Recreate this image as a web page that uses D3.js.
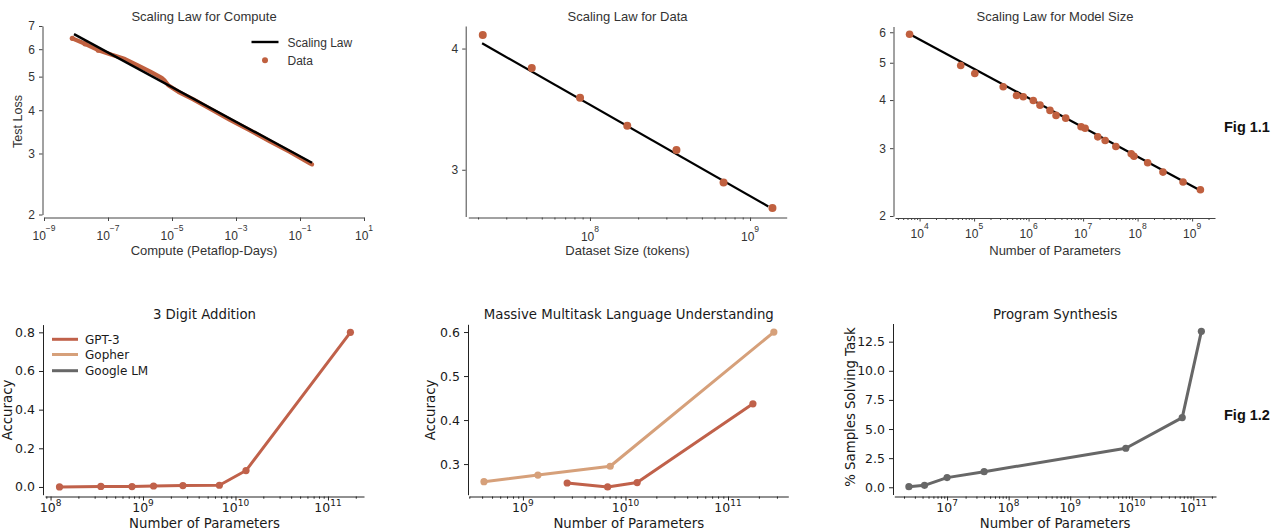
<!DOCTYPE html>
<html><head><meta charset="utf-8">
<script src="https://cdn.jsdelivr.net/npm/d3@7"></script>
<style>body{margin:0;background:#fff;} svg{display:block;}</style>
</head><body><svg id="c" width="1282" height="531"></svg>
<script>
// ---------- DATA ----------
// Fig 1.1 — Scaling Law for Compute
const computePF   = [7.66e-9, 1.91e-8, 4.98e-8, 1.31e-7, 3.40e-7, 8.85e-7, 2.32e-6, 4.76e-6, 6.04e-6, 7.66e-6, 1.57e-5, 4.63e-5, 1.54e-4, 6.49e-4, 2.74e-3, 1.15e-2, 4.86e-2, 0.205, 0.237];
const computeLoss = [6.45, 6.22, 5.96, 5.78, 5.62, 5.38, 5.14, 4.96, 4.86, 4.72, 4.52, 4.30, 4.04, 3.75, 3.50, 3.25, 3.03, 2.81, 2.79];
const computeLawX = [8.66e-9, 0.237];
const computeLawY = [6.63, 2.82];
// Scaling Law for Data
const dataTokens  = [2.14e7, 4.33e7, 8.67e7, 1.71e8, 3.47e8, 6.83e8, 1.38e9];
const dataLoss    = [4.13, 3.82, 3.56, 3.33, 3.145, 2.91, 2.74];
const dataLawX    = [2.12e7, 1.30e9];
const dataLawY    = [4.05, 2.75];
// Scaling Law for Model Size
const modelParams = [6.55e3, 5.69e4, 1.03e5, 3.42e5, 6.01e5, 7.98e5, 1.22e6, 1.62e6, 2.47e6, 3.19e6, 4.80e6, 9.19e6, 1.09e7, 1.86e7, 2.54e7, 3.99e7, 7.64e7, 8.57e7, 1.53e8, 2.92e8, 6.82e8, 1.42e9];
const modelLoss   = [5.93, 4.92, 4.69, 4.33, 4.11, 4.08, 3.99, 3.88, 3.76, 3.65, 3.59, 3.41, 3.38, 3.21, 3.14, 3.03, 2.90, 2.86, 2.75, 2.60, 2.45, 2.34];
const modelLawX   = [7.03e3, 1.42e9];
const modelLawY   = [5.90, 2.33];
// Fig 1.2 — emergent abilities
const seriesNames   = ["GPT-3", "Gopher", "Google LM"];
const gpt3Params    = [1.25e8, 3.5e8, 7.6e8, 1.3e9, 2.7e9, 6.7e9, 1.3e10, 1.75e11];
const additionAcc   = [0.0, 0.003, 0.002, 0.005, 0.007, 0.009, 0.085, 0.80];
const mmluGpt3X     = [2.7e9, 6.7e9, 1.3e10, 1.75e11];
const mmluGpt3Acc   = [0.257, 0.248, 0.258, 0.437];
const gopherParams  = [4.17e8, 1.4e9, 7.1e9, 2.8e11];
const mmluGopherAcc = [0.260, 0.275, 0.295, 0.600];
const googleParams  = [2.4e6, 4.3e6, 1.0e7, 4.0e7, 8.0e9, 6.6e10, 1.35e11];
const synthPct      = [0.05, 0.17, 0.83, 1.34, 3.35, 5.98, 13.39];
// tick labels
const computeTicks  = [1e-9, 1e-7, 1e-5, 1e-3, 1e-1, 1e1];
const lossTicksTL   = [2, 3, 4, 5, 6, 7];
const lossTicksTM   = [3, 4];
const lossTicksTR   = [2, 3, 4, 5, 6];
const tokenTicks    = [1e8, 1e9];
const paramTicksTR  = [1e4, 1e5, 1e6, 1e7, 1e8, 1e9];
const paramTicksBL  = [1e8, 1e9, 1e10, 1e11];
const paramTicksBM  = [1e9, 1e10, 1e11];
const paramTicksBR  = [1e7, 1e8, 1e9, 1e10, 1e11];
const accTicksBL    = [0, 0.2, 0.4, 0.6, 0.8];
const accTicksBM    = [0.3, 0.4, 0.5, 0.6];
const pctTicksBR    = [0, 2.5, 5, 7.5, 10, 12.5];

// ---------- STYLE ----------
const TOPFONT = "'Liberation Sans', Arial, Helvetica, sans-serif";
const BOTFONT = "'DejaVu Sans', sans-serif";
const DOT = "#c0603f";
const C_GPT3 = "#c0614a", C_GOPHER = "#d6a07a", C_GOOGLE = "#676767";

const svg = d3.select("#c");
svg.append("rect").attr("width",1282).attr("height",531).attr("fill","#fff");

function minorTicks(domain){
  const out=[]; const a=domain[0], b=domain[1];
  for(let k=Math.floor(Math.log10(a)); k<=Math.ceil(Math.log10(b)); k++){
    for(let m=2;m<=9;m++){ const v=m*Math.pow(10,k); if(v>=a && v<=b) out.push(v); }
  }
  return out;
}
function expStr(v){ const e=Math.round(Math.log10(v)); return e<0 ? "\u2212"+(-e) : String(e); }

function makePanel(c){
  const g = svg.append("g");
  const x = d3.scaleLog().domain(c.xDomain).range([c.x0, c.x1]);
  const y = (c.yLog ? d3.scaleLog() : d3.scaleLinear()).domain(c.yDomain).range([c.yB, c.yT]);
  const font = c.top ? TOPFONT : BOTFONT;
  const txt = c.top ? "#333" : "#1a1a1a";
  const spine = c.top ? "#444" : "#222";

  // x axis
  const xg = g.append("g").attr("transform", `translate(0,${c.xSpineY})`)
    .call(d3.axisBottom(x).tickValues(c.xMajors).tickSize(c.tickLen).tickSizeOuter(0).tickFormat(() => ""));
  if (c.minor) {
    xg.append("g").call(d3.axisBottom(x).tickValues(minorTicks(c.xDomain)).tickSize(c.minorLen).tickFormat(() => ""))
      .select(".domain").remove();
  }
  xg.selectAll("path,line").attr("stroke", spine).attr("stroke-width", 1);
  // x tick labels 10^k
  c.xMajors.forEach(v => {
    const t = g.append("text").attr("x", x(v)).attr("y", c.xLabY)
      .attr("text-anchor", "middle").attr("fill", txt)
      .style("font-family", font).style("font-size", c.tickFont + "px");
    t.append("tspan").text("10");
    t.append("tspan").attr("dy", -c.expShift).style("font-size", c.expFont + "px").text(expStr(v));
  });

  // y axis
  const yg = g.append("g").attr("transform", `translate(${c.ySpineX},0)`)
    .call(d3.axisLeft(y).tickValues(c.yTicks).tickSize(c.tickLen).tickSizeOuter(0).tickPadding(c.tickPad)
      .tickFormat(c.yFmt));
  yg.selectAll("path,line").attr("stroke", spine).attr("stroke-width", 1);
  yg.selectAll("text").attr("fill", txt).style("font-family", font).style("font-size", c.tickFont + "px");

  // title
  g.append("text").attr("x", (c.x0 + c.x1) / 2).attr("y", c.titleY).attr("text-anchor", "middle")
    .attr("fill", txt).style("font-family", font).style("font-size", c.titleFont + "px").text(c.title);
  // x label
  g.append("text").attr("x", (c.x0 + c.x1) / 2).attr("y", c.xLabelY).attr("text-anchor", "middle")
    .attr("fill", txt).style("font-family", font).style("font-size", c.labelFont + "px").text(c.xLabel);
  // y label
  if (c.yLabel) {
    g.append("text").attr("transform", `translate(${c.yLabelX},${c.yLabelCY}) rotate(-90)`)
      .attr("text-anchor", "middle").attr("fill", txt)
      .style("font-family", font).style("font-size", c.yLabelFont + "px").text(c.yLabel);
  }
  c.draw(g, x, y);
  return g;
}

const topCommon = { top:true, yLog:true, tickLen:3.5, minorLen:2, tickPad:4, tickFont:12, expFont:8.5, expShift:9,
  titleFont:13, labelFont:13, yLabelFont:12.5, titleY:21, xLabelY:255, yFmt: d3.format("d") };
const botCommon = { top:false, yLog:false, minor:true, tickLen:4, minorLen:2.2, tickPad:4, tickFont:12.5, expFont:9, expShift:6,
  titleFont:13.3, labelFont:13.3, yLabelFont:13.3, titleY:319, xLabelY:528, xLabY:511.5, yFmt: d3.format(".1f") };

function lawLine(g, x, y, xs, ys, w){
  g.append("path").datum(d3.zip(xs, ys)).attr("fill","none").attr("stroke","#000").attr("stroke-width", w)
    .attr("d", d3.line().x(d => x(d[0])).y(d => y(d[1])));
}
function dots(g, x, y, xs, ys, r, color){
  g.selectAll(null).data(d3.zip(xs, ys)).join("circle")
    .attr("cx", d => x(d[0])).attr("cy", d => y(d[1])).attr("r", r).attr("fill", color);
}
function series(g, x, y, xs, ys, color){
  const pts = d3.zip(xs, ys);
  g.append("path").datum(pts).attr("fill","none").attr("stroke", color).attr("stroke-width", 3)
    .attr("stroke-linejoin","round").attr("stroke-linecap","round")
    .attr("d", d3.line().x(d => x(d[0])).y(d => y(d[1])));
  g.selectAll(null).data(pts).join("circle")
    .attr("cx", d => x(d[0])).attr("cy", d => y(d[1])).attr("r", 3.6).attr("fill", color);
}

// ---------- TOP ROW ----------
makePanel(Object.assign({}, topCommon, {
  x0:44, x1:364, xDomain:[1e-9, 1e1], yB:214.5, yT:26, yDomain:[2, 7],
  xSpineY:217.5, ySpineX:42.5, xMajors:computeTicks, minor:false, yTicks:lossTicksTL, xLabY:240,
  title:"Scaling Law for Compute", xLabel:"Compute (Petaflop-Days)", yLabel:"Test Loss", yLabelX:22, yLabelCY:121.5,
  draw:(g, x, y) => {
    const pts = d3.zip(computePF, computeLoss);
    g.append("path").datum(pts).attr("fill","none").attr("stroke", DOT).attr("stroke-width", 4.2)
      .attr("stroke-linejoin","round").attr("stroke-linecap","round")
      .attr("d", d3.line().x(d => x(d[0])).y(d => y(d[1])));
    dots(g, x, y, computePF.slice(0, 3), computeLoss.slice(0, 3), 2.6, DOT);
    lawLine(g, x, y, computeLawX, computeLawY, 2.4);
    // legend
    g.append("line").attr("x1",251.5).attr("x2",278.5).attr("y1",42).attr("y2",42).attr("stroke","#000").attr("stroke-width",2.4);
    g.append("circle").attr("cx",265).attr("cy",60.3).attr("r",3).attr("fill",DOT);
    g.append("text").attr("x",287.5).attr("y",46.5).attr("fill","#333").style("font-family",TOPFONT).style("font-size","12px").text("Scaling Law");
    g.append("text").attr("x",287.5).attr("y",64.5).attr("fill","#333").style("font-family",TOPFONT).style("font-size","12px").text("Data");
  }
}));

makePanel(Object.assign({}, topCommon, {
  x0:468.3, x1:786.7, xDomain:[1.738e7, 1.694e9], yB:216.5, yT:26, yDomain:[2.685, 4.22],
  xSpineY:217.5, ySpineX:465.7, xMajors:tokenTicks, minor:true, yTicks:lossTicksTM, xLabY:240.5,
  title:"Scaling Law for Data", xLabel:"Dataset Size (tokens)", yLabel:null,
  draw:(g, x, y) => {
    lawLine(g, x, y, dataLawX, dataLawY, 2.2);
    dots(g, x, y, dataTokens, dataLoss, 4, DOT);
  }
}));

makePanel(Object.assign({}, topCommon, {
  x0:895, x1:1215, xDomain:[3540, 2.63e9], yB:216, yT:26.5, yDomain:[2, 6.21],
  xSpineY:218, ySpineX:893.5, xMajors:paramTicksTR, minor:true, yTicks:lossTicksTR, xLabY:237.5,
  title:"Scaling Law for Model Size", xLabel:"Number of Parameters", yLabel:null,
  draw:(g, x, y) => {
    lawLine(g, x, y, modelLawX, modelLawY, 2.2);
    dots(g, x, y, modelParams, modelLoss, 3.8, DOT);
  }
}));

// ---------- BOTTOM ROW ----------
makePanel(Object.assign({}, botCommon, {
  x0:45, x1:364, xDomain:[Math.pow(10,7.94), Math.pow(10,11.39)], yB:494.7, yT:324.6, yDomain:[-0.04, 0.84],
  xSpineY:496.5, ySpineX:43, xMajors:paramTicksBL, yTicks:accTicksBL,
  title:"3 Digit Addition", xLabel:"Number of Parameters", yLabel:"Accuracy", yLabelX:12, yLabelCY:410,
  draw:(g, x, y) => {
    series(g, x, y, gpt3Params, additionAcc, C_GPT3);
    const cols = [C_GPT3, C_GOPHER, C_GOOGLE];
    const ly = [339.3, 354.5, 370.7];
    seriesNames.forEach((n, i) => {
      g.append("line").attr("x1",52).attr("x2",78).attr("y1",ly[i]).attr("y2",ly[i]).attr("stroke",cols[i]).attr("stroke-width",3);
      g.append("text").attr("x",85).attr("y",ly[i]).attr("dy","0.36em").attr("fill","#1a1a1a")
        .style("font-family",BOTFONT).style("font-size","12px").text(n);
    });
  }
}));

makePanel(Object.assign({}, botCommon, {
  x0:469.3, x1:788.3, xDomain:[Math.pow(10,8.477), Math.pow(10,11.588)], yB:494.7, yT:324.3, yDomain:[0.2304, 0.6176],
  xSpineY:496.5, ySpineX:468, xMajors:paramTicksBM, yTicks:accTicksBM,
  title:"Massive Multitask Language Understanding", xLabel:"Number of Parameters", yLabel:"Accuracy", yLabelX:435, yLabelCY:410,
  draw:(g, x, y) => {
    series(g, x, y, gopherParams, mmluGopherAcc, C_GOPHER);
    series(g, x, y, mmluGpt3X, mmluGpt3Acc, C_GPT3);
  }
}));

makePanel(Object.assign({}, botCommon, {
  x0:894.3, x1:1216, xDomain:[Math.pow(10,6.143), Math.pow(10,11.368)], yB:494.5, yT:323.5, yDomain:[-0.62, 14.06],
  xSpineY:496.5, ySpineX:893, xMajors:paramTicksBR, yTicks:pctTicksBR,
  title:"Program Synthesis", xLabel:"Number of Parameters", yLabel:"% Samples Solving Task", yLabelX:855, yLabelCY:407,
  draw:(g, x, y) => {
    series(g, x, y, googleParams, synthPct, C_GOOGLE);
  }
}));

// ---------- Figure labels ----------
svg.append("text").attr("x",1224).attr("y",132).attr("fill","#111").style("font-family",TOPFONT)
  .style("font-weight","bold").style("font-size","14.5px").text("Fig 1.1");
svg.append("text").attr("x",1224).attr("y",420).attr("fill","#111").style("font-family",TOPFONT)
  .style("font-weight","bold").style("font-size","14.5px").text("Fig 1.2");
</script>
</body></html>
